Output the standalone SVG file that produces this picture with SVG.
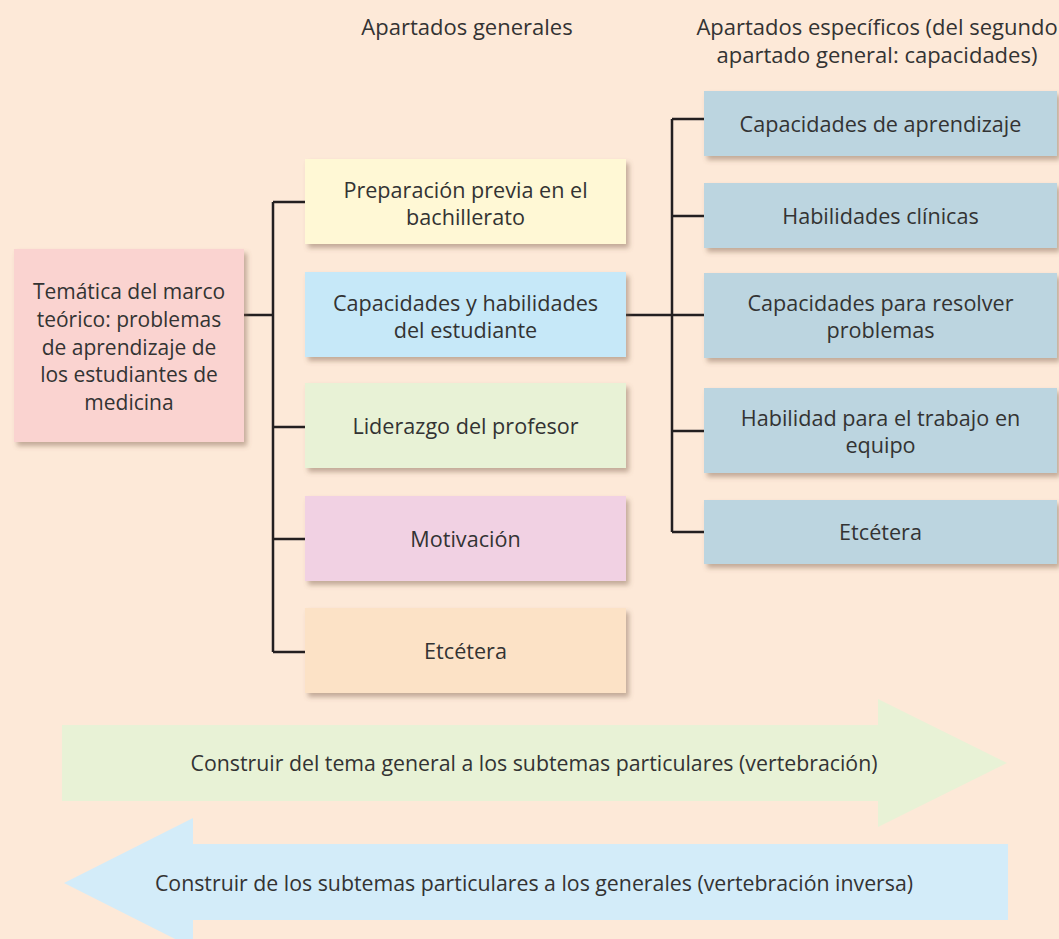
<svg xmlns="http://www.w3.org/2000/svg" width="1059" height="939" viewBox="0 0 1059 939">
<defs>
<filter id="sh" x="-10%" y="-10%" width="125%" height="135%">
<feDropShadow dx="3" dy="4" stdDeviation="2.5" flood-color="#7a5f4c" flood-opacity="0.45"/>
</filter>
<style>
text{font-family:"Open Sans","Liberation Sans",sans-serif;font-size:21.6px;fill:#333;text-anchor:middle}
.pk{font-size:21px}
.hd{font-size:22px}
.ar{font-size:21.3px}
.box{filter:url(#sh)}
.ln{stroke:#231f20;stroke-width:2.5;fill:none}
</style>
</defs>
<rect width="1059" height="939" fill="#fde9d8"/>
<text class="hd" x="467" y="35">Apartados generales</text>
<text class="hd" x="877" y="35">Apartados específicos (del segundo</text>
<text class="hd" x="877" y="63">apartado general: capacidades)</text>
<g id="connectors">
<path class="ln" d="M244,315H273M273,202V652M273,202H305M273,427H305M273,539H305M273,652H305"/>
<path class="ln" d="M626,315H672M672,119V532M672,119H704M672,216H704M672,315H704M672,431H704M672,532H704"/>
</g>
<g id="n-tematica">
<rect class="box" x="14" y="249" width="230" height="193" fill="#fad3d0"/>
<text class="pk" x="129" y="299">Temática del marco</text>
<text class="pk" x="129" y="327">teórico: problemas</text>
<text class="pk" x="129" y="355">de aprendizaje de</text>
<text class="pk" x="129" y="382">los estudiantes de</text>
<text class="pk" x="129" y="410">medicina</text>
</g>
<g id="n-preparacion">
<rect class="box" x="305" y="159" width="321" height="85" fill="#fff8d5"/>
<text x="465.5" y="198">Preparación previa en el</text>
<text x="465.5" y="225">bachillerato</text>
</g>
<g id="n-capacidades">
<rect class="box" x="305" y="272" width="321" height="85" fill="#c6e8f8"/>
<text x="465.5" y="311">Capacidades y habilidades</text>
<text x="465.5" y="338">del estudiante</text>
</g>
<g id="n-liderazgo">
<rect class="box" x="305" y="383" width="321" height="85" fill="#e8f2d6"/>
<text x="465.5" y="434">Liderazgo del profesor</text>
</g>
<g id="n-motivacion">
<rect class="box" x="305" y="496" width="321" height="85" fill="#f1d1e3"/>
<text x="465.5" y="547">Motivación</text>
</g>
<g id="n-etc1">
<rect class="box" x="305" y="608" width="321" height="85" fill="#fce2c6"/>
<text x="465.5" y="659">Etcétera</text>
</g>
<g id="n-aprendizaje">
<rect class="box" x="704" y="91" width="353" height="65" fill="#bcd5e0"/>
<text x="880.5" y="132">Capacidades de aprendizaje</text>
</g>
<g id="n-clinicas">
<rect class="box" x="704" y="183" width="353" height="65" fill="#bcd5e0"/>
<text x="880.5" y="224">Habilidades clínicas</text>
</g>
<g id="n-resolver">
<rect class="box" x="704" y="273" width="353" height="85" fill="#bcd5e0"/>
<text x="880.5" y="311">Capacidades para resolver</text>
<text x="880.5" y="338">problemas</text>
</g>
<g id="n-equipo">
<rect class="box" x="704" y="388" width="353" height="85" fill="#bcd5e0"/>
<text x="880.5" y="426">Habilidad para el trabajo en</text>
<text x="880.5" y="453">equipo</text>
</g>
<g id="n-etc2">
<rect class="box" x="704" y="500" width="353" height="64" fill="#bcd5e0"/>
<text x="880.5" y="540">Etcétera</text>
</g>
<g id="arrow-forward">
<path d="M62,725H878V699L1007,763L878,827V801H62Z" fill="#e8f2d6"/>
<text class="ar" x="534" y="771">Construir del tema general a los subtemas particulares (vertebración)</text>
</g>
<g id="arrow-inverse">
<path d="M1008,844H193V818L64,883L193,948V920H1008Z" fill="#d3ecf9"/>
<text class="ar" x="534" y="891">Construir de los subtemas particulares a los generales (vertebración inversa)</text>
</g>
</svg>
